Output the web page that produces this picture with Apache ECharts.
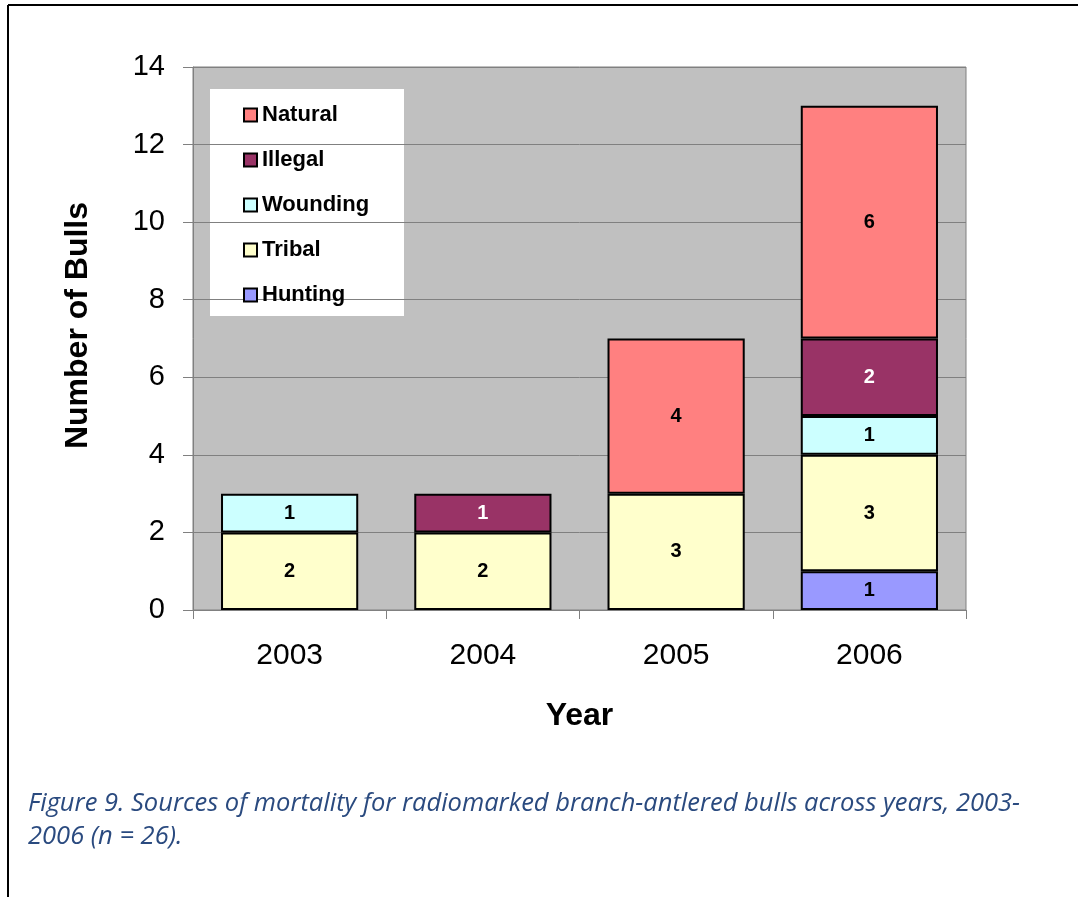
<!DOCTYPE html>
<html>
<head>
<meta charset="utf-8">
<script src="https://cdn.jsdelivr.net/npm/echarts@6/dist/echarts.min.js"></script>
<style>
  html, body { margin: 0; padding: 0; background: #fff; }
  #chart { width: 1078px; height: 897px; }
</style>
</head>
<body>
<div id="chart"></div>
<script>
const years = ["2003", "2004", "2005", "2006"];
const hunting = [null, null, null, 1];
const tribal = [2, 2, 3, 3];
const wounding = [1, null, null, 1];
const illegal = [null, 1, null, 2];
const natural = [null, null, 4, 6];
const legendOrder = ["Natural", "Illegal", "Wounding", "Tribal", "Hunting"];
const caption = [
  "Figure 9. Sources of mortality for radiomarked branch-antlered bulls across years, 2003-",
  "2006 (n = 26)."
];

const chart = echarts.init(document.getElementById("chart"));

function makeSeries(name, data, color, labelColor) {
  return {
    name: name,
    type: "bar",
    stack: "total",
    data: data,
    barWidth: "71%",
    itemStyle: { color: color, borderColor: "#000", borderWidth: 2 },
    label: {
      show: true,
      position: "inside",
      color: labelColor,
      fontFamily: "Arial",
      fontWeight: "bold",
      fontSize: 20
    }
  };
}

const option = {
  animation: false,
  backgroundColor: "#fff",
  grid: {
    left: 193,
    right: 112,
    top: 67,
    bottom: 287,
    show: true,
    backgroundColor: "#c0c0c0",
    borderColor: "#808080",
    borderWidth: 1
  },
  legend: {
    data: legendOrder,
    orient: "vertical",
    left: 238,
    top: 99,
    itemGap: 23,
    itemWidth: 13,
    itemHeight: 13,
    icon: "rect",
    itemStyle: { borderColor: "#000", borderWidth: 2 },
    textStyle: { fontFamily: "Arial", fontWeight: "bold", fontSize: 22, color: "#000", padding: [0, 0, 0, 0] }
  },
  xAxis: {
    type: "category",
    data: years,
    name: "Year",
    nameLocation: "middle",
    nameGap: 90,
    nameTextStyle: { fontFamily: "Arial", fontWeight: "bold", fontSize: 32, color: "#000" },
    axisLine: { lineStyle: { color: "#808080", width: 1 } },
    axisTick: { show: true, length: 9, lineStyle: { color: "#808080" } },
    axisLabel: { margin: 31, fontFamily: "Arial", fontSize: 30, color: "#000" }
  },
  yAxis: {
    type: "value",
    min: 0,
    max: 14,
    interval: 2,
    name: "Number of Bulls",
    nameLocation: "middle",
    nameGap: 99,
    nameRotate: 90,
    nameTextStyle: { fontFamily: "Arial", fontWeight: "bold", fontSize: 32, color: "#000", padding: [0, 0, 0, 26] },
    axisLine: { show: true, lineStyle: { color: "#808080", width: 1 } },
    axisTick: { show: true, length: 10, lineStyle: { color: "#808080" } },
    axisLabel: { margin: 28, fontFamily: "Arial", fontSize: 29, color: "#000" },
    splitLine: { lineStyle: { color: "#808080", width: 1 } }
  },
  series: [
    makeSeries("Hunting", hunting, "#9999ff", "#000"),
    makeSeries("Tribal", tribal, "#ffffcc", "#000"),
    makeSeries("Wounding", wounding, "#ccffff", "#000"),
    makeSeries("Illegal", illegal, "#993366", "#fff"),
    makeSeries("Natural", natural, "#ff8080", "#000")
  ],
  graphic: [
    { type: "rect", z: 0, shape: { x: 210, y: 89, width: 194, height: 227 }, style: { fill: "#fff" } },
    { type: "line", shape: { x1: 8, y1: 5, x2: 1078, y2: 5 }, style: { stroke: "#000", lineWidth: 2 } },
    { type: "line", shape: { x1: 8, y1: 5, x2: 8, y2: 897 }, style: { stroke: "#000", lineWidth: 2 } },
    {
      type: "text", left: 28, top: 787,
      style: {
        text: caption.join("\n"),
        fill: "#2a4a7f",
        font: "italic 25.5px 'Open Sans'",
        lineHeight: 33
      }
    }
  ]
};

chart.setOption(option);
</script>
</body>
</html>
